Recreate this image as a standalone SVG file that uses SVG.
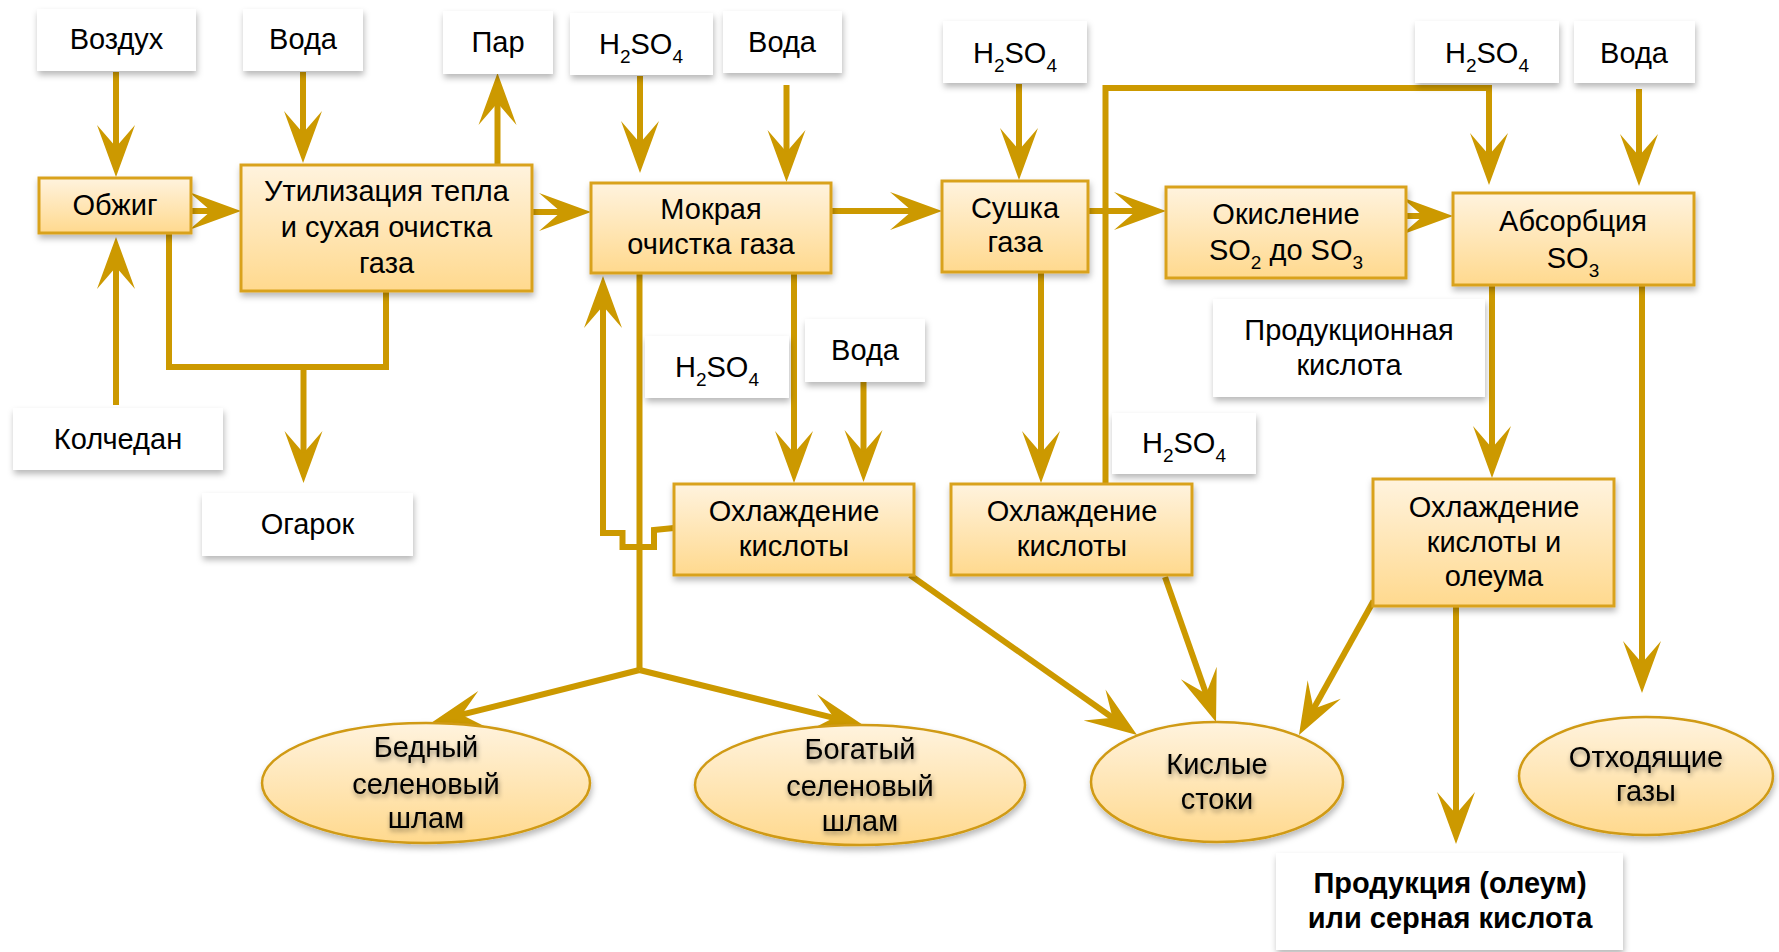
<svg xmlns="http://www.w3.org/2000/svg" width="1779" height="952" viewBox="0 0 1779 952">
<defs>
<linearGradient id="gf" x1="0" y1="0" x2="0" y2="1">
<stop offset="0" stop-color="#FFF3DE"/>
<stop offset="1" stop-color="#FFD98E"/>
</linearGradient>
<filter id="sh" x="-10%" y="-10%" width="125%" height="135%">
<feDropShadow dx="1" dy="4" stdDeviation="3" flood-color="#000" flood-opacity="0.28"/>
</filter>
<filter id="tsh" x="-10%" y="-20%" width="130%" height="150%">
<feDropShadow dx="1" dy="3" stdDeviation="2.5" flood-color="#000" flood-opacity="0.4"/>
</filter>
<marker id="ah" markerUnits="userSpaceOnUse" viewBox="0 0 54 40" markerWidth="54" markerHeight="40" refX="26" refY="20" orient="auto" overflow="visible">
<path d="M52,20 L0,1 L22,20 L0,39 Z" fill="#CC9900"/>
</marker>
<style>
.c{fill:none;stroke:#CC9900;stroke-width:6;stroke-linejoin:miter}
.a{marker-end:url(#ah)}
.w{fill:#fff;filter:url(#sh)}
.p{fill:url(#gf);stroke:#D9A21E;stroke-width:3;filter:url(#sh)}
.e{fill:url(#gf);stroke:#D09A12;stroke-width:2.5;filter:url(#sh)}
text{font-family:"Liberation Sans",Arial,sans-serif;font-size:29px;fill:#000;text-anchor:middle}
.b{font-weight:bold}
.et{filter:url(#tsh)}
.s{font-size:19px}
</style>
</defs>
<g id="connectors">
<path class="c a" d="M116,72 V151"/>
<path class="c a" d="M303,72 V137"/>
<path class="c a" d="M497.5,165 V99"/>
<path class="c a" d="M116,405 V263"/>
<path class="c a" d="M191,211 H215"/>
<path class="c a" d="M532,212 H565"/>
<path class="c" d="M169,233 V367 H386 V291"/>
<path class="c a" d="M303.5,367 V457"/>
<path class="c a" d="M640,76 V147"/>
<path class="c a" d="M786.5,85 V156"/>
<path class="c a" d="M831,211 H916"/>
<path class="c a" d="M1019,84 V154"/>
<path class="c a" d="M1088,211 H1140"/>
<path class="c a" d="M1406,216 H1427"/>
<path class="c a" d="M1105.5,484 V88 H1489 V159"/>
<path class="c a" d="M1639,89 V160"/>
<path class="c a" d="M794,273 V457"/>
<path class="c a" d="M863.5,382 V456"/>
<path class="c a" d="M1041,272 V457"/>
<path class="c a" d="M674,528 L654,530 V547 H622.5 V533 H603 V302"/>
<path class="c" d="M639.5,273 V670"/>
<path class="c a" d="M639.5,670 L457.7,715.7"/>
<path class="c a" d="M639.5,670 L837.8,718.8"/>
<path class="c a" d="M910,575 L1115.8,720"/>
<path class="c a" d="M1165,577 L1207.4,697.5"/>
<path class="c a" d="M1373.5,601 L1311.6,712.3"/>
<path class="c a" d="M1492,285 V452"/>
<path class="c a" d="M1642,285 V667"/>
<path class="c a" d="M1456,606 V818"/>
</g>
<g id="n-vozduh"><rect class="w" x="37" y="9" width="159" height="62"/><text x="116.5" y="49">Воздух</text></g>
<g id="n-voda1"><rect class="w" x="243" y="9" width="120" height="62"/><text x="303" y="49">Вода</text></g>
<g id="n-par"><rect class="w" x="443" y="11" width="110" height="63"/><text x="498" y="52">Пар</text></g>
<g id="n-h2so4-1"><rect class="w" x="570" y="13" width="143" height="62"/><text x="641" y="54">H<tspan class="s" dy="9">2</tspan><tspan dy="-9">SO</tspan><tspan class="s" dy="9">4</tspan></text></g>
<g id="n-voda2"><rect class="w" x="723" y="11" width="119" height="62"/><text x="782" y="52">Вода</text></g>
<g id="n-h2so4-2"><rect class="w" x="943" y="21" width="144" height="62"/><text x="1015" y="63">H<tspan class="s" dy="9">2</tspan><tspan dy="-9">SO</tspan><tspan class="s" dy="9">4</tspan></text></g>
<g id="n-h2so4-3"><rect class="w" x="1415" y="21" width="144" height="62"/><text x="1487" y="63">H<tspan class="s" dy="9">2</tspan><tspan dy="-9">SO</tspan><tspan class="s" dy="9">4</tspan></text></g>
<g id="n-voda3"><rect class="w" x="1574" y="21" width="121" height="62"/><text x="1634" y="63">Вода</text></g>
<g id="n-kolchedan"><rect class="w" x="13" y="408" width="210" height="62"/><text x="118" y="449">Колчедан</text></g>
<g id="n-ogarok"><rect class="w" x="202" y="493" width="211" height="63"/><text x="307.5" y="534">Огарок</text></g>
<g id="n-h2so4-4"><rect class="w" x="645" y="336" width="144" height="62"/><text x="717" y="377">H<tspan class="s" dy="9">2</tspan><tspan dy="-9">SO</tspan><tspan class="s" dy="9">4</tspan></text></g>
<g id="n-voda4"><rect class="w" x="805" y="319" width="120" height="63"/><text x="865" y="360">Вода</text></g>
<g id="n-h2so4-5"><rect class="w" x="1112" y="413" width="144" height="61"/><text x="1184" y="453">H<tspan class="s" dy="9">2</tspan><tspan dy="-9">SO</tspan><tspan class="s" dy="9">4</tspan></text></g>
<g id="n-prodkisl"><rect class="w" x="1213" y="299" width="272" height="98"/><text x="1349" y="340">Продукционная</text><text x="1349" y="375">кислота</text></g>
<g id="n-produkciya"><rect class="w" x="1276" y="853" width="347" height="97"/><text class="b" x="1450" y="893">Продукция (олеум)</text><text class="b" x="1450" y="928">или серная кислота</text></g>
<g id="n-obzhig"><rect class="p" x="39" y="178" width="152" height="55"/><text x="115" y="215">Обжиг</text></g>
<g id="n-util"><rect class="p" x="241" y="165" width="291" height="126"/><text x="386.5" y="201">Утилизация тепла</text><text x="386.5" y="237">и сухая очистка</text><text x="386.5" y="273">газа</text></g>
<g id="n-mokr"><rect class="p" x="591" y="183" width="240" height="90"/><text x="711" y="219">Мокрая</text><text x="711" y="254">очистка газа</text></g>
<g id="n-sushka"><rect class="p" x="942" y="181" width="146" height="91"/><text x="1015" y="218">Сушка</text><text x="1015" y="252">газа</text></g>
<g id="n-okisl"><rect class="p" x="1166" y="187" width="240" height="91"/><text x="1286" y="224">Окисление</text><text x="1286" y="260">SO<tspan class="s" dy="9">2</tspan><tspan dy="-9"> до SO</tspan><tspan class="s" dy="9">3</tspan></text></g>
<g id="n-absorb"><rect class="p" x="1453" y="193" width="241" height="92"/><text x="1573" y="231">Абсорбция</text><text x="1573" y="268">SO<tspan class="s" dy="9">3</tspan></text></g>
<g id="n-ohl1"><rect class="p" x="674" y="484" width="240" height="91"/><text x="794" y="521">Охлаждение</text><text x="794" y="556">кислоты</text></g>
<g id="n-ohl2"><rect class="p" x="951" y="484" width="241" height="91"/><text x="1072" y="521">Охлаждение</text><text x="1072" y="556">кислоты</text></g>
<g id="n-ohl3"><rect class="p" x="1373" y="479" width="241" height="127"/><text x="1494" y="517">Охлаждение</text><text x="1494" y="552">кислоты и</text><text x="1494" y="586">олеума</text></g>
<g id="n-bedny"><ellipse class="e" cx="426" cy="783" rx="164" ry="60"/><g class="et"><text x="426" y="757">Бедный</text><text x="426" y="794">селеновый</text><text x="426" y="828">шлам</text></g></g>
<g id="n-bogaty"><ellipse class="e" cx="860" cy="785" rx="165" ry="60"/><g class="et"><text x="860" y="759">Богатый</text><text x="860" y="796">селеновый</text><text x="860" y="831">шлам</text></g></g>
<g id="n-kislye"><ellipse class="e" cx="1217" cy="782" rx="126" ry="60"/><g class="et"><text x="1217" y="774">Кислые</text><text x="1217" y="809">стоки</text></g></g>
<g id="n-othod"><ellipse class="e" cx="1646" cy="776" rx="127" ry="59"/><g class="et"><text x="1646" y="767">Отходящие</text><text x="1646" y="801">газы</text></g></g>
</svg>
